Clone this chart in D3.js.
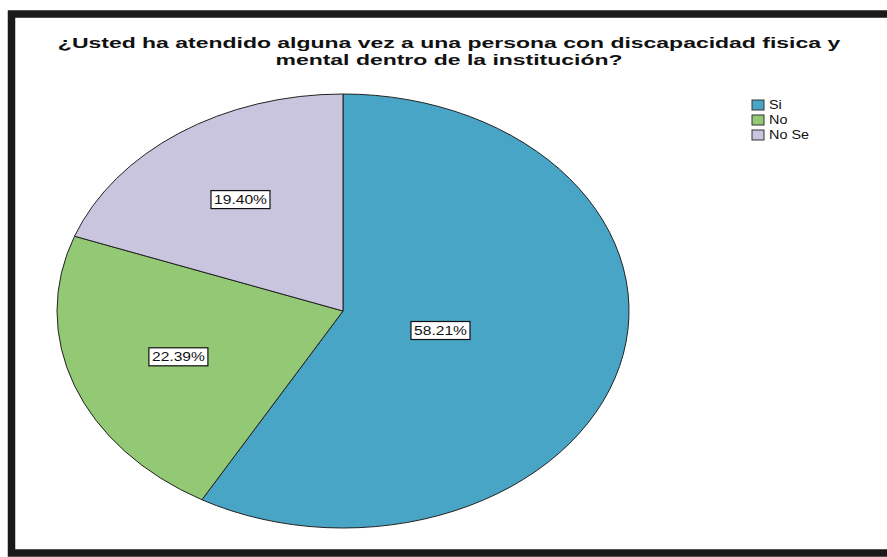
<!DOCTYPE html>
<html>
<head>
<meta charset="utf-8">
<script src="https://cdn.jsdelivr.net/npm/d3@7"></script>
<style>
  body { margin: 0; background: #fff; }
  svg { display: block; }
</style>
</head>
<body>
<div id="chart"></div>
<script>
//Data
var categories = ["Si", "No", "No Se"];
var percents = [58.21, 22.39, 19.40];
var labels = ["58.21%", "22.39%", "19.40%"];
var titleLines = ["¿Usted ha atendido alguna vez a una persona con discapacidad fisica y",
                  "mental dentro de la institución?"];
var colors = ["#49a5c6", "#93c874", "#cac5df"];

var width = 887, height = 557;

var svg = d3.select("#chart").append("svg")
    .attr("width", width)
    .attr("height", height);

//Frame (right edge is cut off in the picture)
svg.append("rect")
    .attr("x", 11.5).attr("y", 14)
    .attr("width", width + 20).attr("height", 539)
    .attr("fill", "#fff")
    .attr("stroke", "#1a1a1a")
    .attr("stroke-width", 7.5);

//Title, stretched sideways like the rest of the picture
var titleG = svg.append("g");
titleG.selectAll("text")
    .data(titleLines)
    .enter().append("text")
    .attr("x", 0)
    .attr("y", function(d, i) { return 48.5 + i * 16.5; })
    .attr("text-anchor", "middle")
    .style("font-family", "Liberation Sans, Arial, sans-serif")
    .style("font-weight", "bold")
    .style("font-size", "15px")
    .attr("fill", "#111")
    .text(function(d) { return d; });

var natural = titleG.select("text").node().getComputedTextLength();
var stretch = 783 / natural;
titleG.attr("transform", "translate(449,0) scale(" + stretch + ",1)");

//Pie, drawn as a circle and squashed into an ellipse
var cx = 343, cy = 311, rx = 286, ry = 217, r = 100;

var pie = d3.pie().sort(null).value(function(d) { return d; });
var arcs = pie(percents);
var arc = d3.arc().innerRadius(0).outerRadius(r);

var pieG = svg.append("g")
    .attr("transform", "translate(" + cx + "," + cy + ") scale(" + (rx / r) + "," + (ry / r) + ")");

pieG.selectAll("path")
    .data(arcs)
    .enter().append("path")
    .attr("d", arc)
    .attr("fill", function(d, i) { return colors[i]; })
    .attr("stroke", "#222")
    .attr("stroke-width", 1)
    .attr("vector-effect", "non-scaling-stroke");

//Labels sit on the centroid of each slice's area
var labelG = svg.append("g");
arcs.forEach(function(d, i) {
    var a = d.endAngle - d.startAngle,
        mid = (d.startAngle + d.endAngle) / 2,
        k = 4 * Math.sin(a / 2) / (3 * a);
    var x = cx + Math.sin(mid) * k * rx,
        y = cy - Math.cos(mid) * k * ry;
    var g = labelG.append("g").attr("transform", "translate(" + x + "," + y + ")");
    g.append("rect")
        .attr("x", -29.5).attr("y", -9)
        .attr("width", 59).attr("height", 18)
        .attr("fill", "#fff")
        .attr("stroke", "#111")
        .attr("stroke-width", 1.2);
    g.append("text")
        .attr("text-anchor", "middle")
        .attr("dy", "0.36em")
        .attr("transform", "scale(1.2,1)")
        .style("font-family", "Liberation Sans, Arial, sans-serif")
        .style("font-size", "13px")
        .attr("fill", "#111")
        .text(labels[i]);
});

//Legend
var legend = svg.append("g").attr("transform", "translate(752,100)");
var items = legend.selectAll("g")
    .data(categories)
    .enter().append("g")
    .attr("transform", function(d, i) { return "translate(0," + (i * 15) + ")"; });

items.append("rect")
    .attr("width", 12).attr("height", 10)
    .attr("fill", function(d, i) { return colors[i]; })
    .attr("stroke", "#333")
    .attr("stroke-width", 1);

items.append("text")
    .attr("transform", "translate(17,5) scale(1.2,1)")
    .attr("dy", "0.36em")
    .style("font-family", "Liberation Sans, Arial, sans-serif")
    .style("font-size", "12px")
    .attr("fill", "#111")
    .text(function(d) { return d; });
</script>
</body>
</html>
